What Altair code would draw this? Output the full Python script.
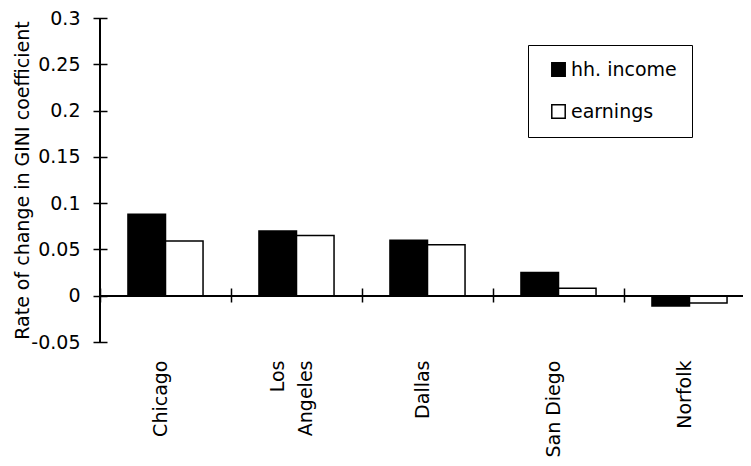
import altair as alt
import pandas as pd

# ---- data ----
cities = ["Chicago", "Los Angeles", "Dallas", "San Diego", "Norfolk"]
series = ["hh. income", "earnings"]
hh_income = [0.088, 0.070, 0.060, 0.025, -0.011]
earnings = [0.059, 0.065, 0.055, 0.008, -0.008]
y_ticks = [-0.05, 0, 0.05, 0.1, 0.15, 0.2, 0.25, 0.3]
y_title = "Rate of change in GINI coefficient"

rows = []
for c, a, b in zip(cities, hh_income, earnings):
    rows.append({"city": c, "series": series[0], "value": a})
    rows.append({"city": c, "series": series[1], "value": b})
df = pd.DataFrame(rows)

FONT = "DejaVu Sans"
FS = 19

yscale = alt.Scale(domain=[-0.05, 0.3], nice=False, zero=False)

bars = alt.Chart(df).mark_bar(stroke="black", strokeWidth=1.5).encode(
    x=alt.X(
        "city:N",
        scale=alt.Scale(domain=cities, range=[0, 655], paddingInner=0, paddingOuter=0),
        axis=alt.Axis(
            title=None,
            domain=False,
            orient="bottom",
            offset=-54,
            tickSize=14,
            tickBand="extent",
            tickColor="black",
            tickWidth=1.5,
            labelAngle=270,
            labelPadding=58,
            labelOffset=alt.condition("datum.value == 'Los Angeles'", alt.value(-19), alt.value(-5)),
            labelFont=FONT,
            labelFontSize=FS,
            labelColor="black",
            labelLineHeight=28,
            labelExpr="datum.value == 'Los Angeles' ? ['Los\u00a0\u00a0\u00a0', 'Angeles'] : datum.value",
        ),
    ),
    xOffset=alt.XOffset(
        "series:N",
        scale=alt.Scale(domain=series, paddingInner=0, paddingOuter=0.745),
    ),
    y=alt.Y(
        "value:Q",
        scale=yscale,
        axis=alt.Axis(
            title=y_title,
            values=y_ticks,
            domain=False,
            grid=False,
            offset=-7,
            tickSize=14,
            tickColor="black",
            tickWidth=1.5,
            labelPadding=13,
            labelFont=FONT,
            labelFontSize=FS,
            labelColor="black",
            labelExpr="'' + datum.value",
            titleFont=FONT,
            titleFontSize=FS,
            titleFontWeight="normal",
            titleColor="black",
            titleX=-85,
            titleBaseline="middle",
        ),
    ),
    fill=alt.Fill(
        "series:N",
        scale=alt.Scale(domain=series, range=["black", "white"]),
        legend=alt.Legend(
            title=None,
            orient="none",
            legendX=428,
            legendY=27,
            padding=15,
            strokeColor="black",
            fillColor="white",
            symbolType="square",
            symbolSize=180,
            symbolStrokeColor="black",
            symbolStrokeWidth=1.5,
            symbolOffset=6,
            labelFont=FONT,
            labelFontSize=FS,
            labelColor="black",
            labelOffset=3,
            rowPadding=21,
        ),
    ),
)

zero_line = alt.Chart(df).mark_rule(color="black", strokeWidth=1.5).encode(
    y=alt.datum(0, scale=yscale)
)

y_line = alt.Chart(df).mark_rule(color="black", strokeWidth=1.5).encode(
    x=alt.value(0),
    y=alt.datum(-0.05, scale=yscale),
    y2=alt.datum(0.3),
)

chart = alt.layer(bars, zero_line, y_line).properties(
    width=643,
    height=324,
    autosize=alt.AutoSizeParams(type="none"),
    padding={"left": 92, "top": 10, "right": 0, "bottom": 116},
    background="white",
).configure_view(stroke=None)

chart.save("out.html", embed_options={"renderer": "svg", "actions": False})
